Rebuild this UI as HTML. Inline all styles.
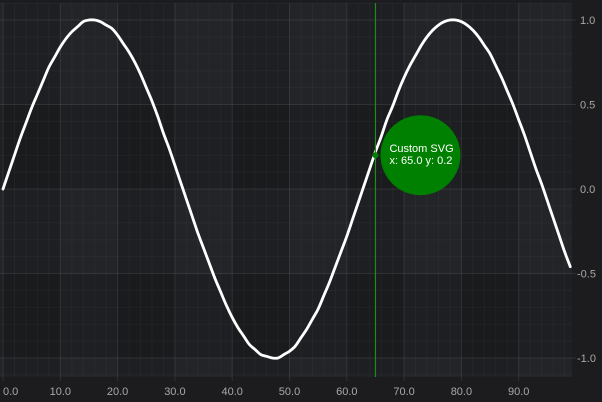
<!DOCTYPE html>
<html><head><meta charset="utf-8"><style>
html,body{margin:0;padding:0;background:#1c1c1e;}
svg{display:block;font-family:"Liberation Sans",sans-serif;}
</style></head><body>
<svg id="chart" width="602" height="402" viewBox="0 0 602 402" xmlns="http://www.w3.org/2000/svg">
<rect x="0" y="0" width="602" height="402" fill="#1c1c1e"/>
<g id="bands"></g>
<g id="grid"></g>
<g id="series"></g>
<g id="axes"></g>
<g id="tip"></g>
</svg>
<script>
const xValues = [];
for (let i = 0; i < 100; i++) xValues.push(i);
const yValues = [0.00,0.10,0.20,0.30,0.39,0.48,0.56,0.64,0.72,0.78,0.84,0.89,0.93,0.96,0.99,1.00,1.00,0.99,0.97,0.95,0.91,0.86,0.81,0.75,0.68,0.60,0.52,0.43,0.33,0.24,0.14,0.04,-0.06,-0.16,-0.26,-0.35,-0.44,-0.53,-0.61,-0.69,-0.76,-0.82,-0.87,-0.92,-0.95,-0.98,-0.99,-1.00,-1.00,-0.98,-0.96,-0.93,-0.88,-0.83,-0.77,-0.71,-0.63,-0.55,-0.46,-0.37,-0.28,-0.18,-0.08,0.02,0.12,0.22,0.31,0.41,0.49,0.58,0.66,0.73,0.79,0.85,0.90,0.94,0.97,0.99,1.00,1.00,0.99,0.97,0.94,0.90,0.85,0.80,0.73,0.66,0.58,0.50,0.41,0.32,0.22,0.12,0.03,-0.07,-0.17,-0.27,-0.37,-0.46];
const xTicks = [0,10,20,30,40,50,60,70,80,90];
const xTickLabels = ["0.0","10.0","20.0","30.0","40.0","50.0","60.0","70.0","80.0","90.0"];
const yTicks = [1.0,0.5,0.0,-0.5,-1.0];
const yTickLabels = ["1.0","0.5","0.0","-0.5","-1.0"];
const cursorX = 65.0;
const cursorY = 0.2;

const NS = "http://www.w3.org/2000/svg";
const L = 0, R = 572, T = 3, B = 377;
const X0 = 3, XS = 5.73;
const Y0 = 189, YS = 169;
function sx(v){ return X0 + v * XS; }
function sy(v){ return Y0 - v * YS; }
function vx(p){ return (p - X0) / XS; }
function mk(tag, attrs, parent){
  const e = document.createElementNS(NS, tag);
  for (const k in attrs) e.setAttribute(k, attrs[k]);
  parent.appendChild(e);
  return e;
}
const bands = document.getElementById('bands');
const grid = document.getElementById('grid');
const series = document.getElementById('series');
const axes = document.getElementById('axes');
const tip = document.getElementById('tip');

const base = mk('rect', {x:L, y:T, width:R-L, height:B-T, fill:'#232427'}, bands);



const xmax = vx(R);
for (let c = 0; c * 10 < xmax; c += 2) {
  const x1 = Math.max(L, sx(c*10)), x2 = Math.min(R, sx(c*10+10));
  const r = mk('rect', {x:x1, y:T, width:x2-x1, height:B-T, fill:'rgba(0,0,0,0.12)'}, bands);
  
  
}
[[0,0.5],[-1,-0.5]].forEach(function(b){
  const r = mk('rect', {x:L, y:sy(b[1]), width:R-L, height:sy(b[0])-sy(b[1]), fill:'rgba(0,0,0,0.12)'}, bands);
  
  
});
for (let v = 0; v <= xmax; v += 2) {
  if (v % 10 === 0) continue;
  const l = mk('line', {x1:sx(v), x2:sx(v), y1:T, y2:B, stroke:'rgba(255,255,255,0.03)', 'stroke-width':1}, grid);
  
  
}
for (let k = -11; k <= 11; k++) {
  if (k % 5 === 0) continue;
  const l = mk('line', {x1:L, x2:R, y1:sy(k/10), y2:sy(k/10), stroke:'rgba(255,255,255,0.03)', 'stroke-width':1}, grid);
  
  
}
xTicks.forEach(function(v, i){
  const l = mk('line', {x1:sx(v), x2:sx(v), y1:T, y2:B+4, stroke:'rgba(255,255,255,0.09)', 'stroke-width':1}, grid);
  
  
  const t = mk('text', {x: i === 0 ? sx(v) : sx(v), y:395, fill:'#a8a8a8', 'font-size':11, 'text-anchor': i === 0 ? 'start' : 'middle'}, axes);
  t.textContent = xTickLabels[i];
  
  
});
yTicks.forEach(function(v, i){
  const l = mk('line', {x1:L, x2:R+4, y1:sy(v), y2:sy(v), stroke:'rgba(255,255,255,0.09)', 'stroke-width':1}, grid);
  
  
  const t = mk('text', {x:v < 0 ? 577 : 580, y:sy(v)+4, fill:'#a8a8a8', 'font-size':11}, axes);
  t.textContent = yTickLabels[i];
  
  
});
// smooth series line (Catmull-Rom)
const pts = xValues.map(function(x, i){ return [sx(x), sy(yValues[i])]; });
let d = 'M' + pts[0][0].toFixed(2) + ',' + pts[0][1].toFixed(2);
for (let i = 0; i < pts.length - 1; i++) {
  const p0 = pts[Math.max(0, i-1)], p1 = pts[i], p2 = pts[i+1], p3 = pts[Math.min(pts.length-1, i+2)];
  const c1x = p1[0] + (p2[0]-p0[0])/6, c1y = p1[1] + (p2[1]-p0[1])/6;
  const c2x = p2[0] - (p3[0]-p1[0])/6, c2y = p2[1] - (p3[1]-p1[1])/6;
  d += 'C' + c1x.toFixed(2) + ',' + c1y.toFixed(2) + ' ' + c2x.toFixed(2) + ',' + c2y.toFixed(2) + ' ' + p2[0].toFixed(2) + ',' + p2[1].toFixed(2);
}
const path = mk('path', {d:d, fill:'none', stroke:'#ffffff', 'stroke-width':2.8, 'stroke-linejoin':'round', 'stroke-linecap':'round'}, series);



const cx = sx(cursorX), cy = sy(cursorY);
const vl = mk('line', {x1:cx, x2:cx, y1:T, y2:B, stroke:'#1f8a1f', 'stroke-width':1.2}, tip);


const el = mk('ellipse', {cx:cx+45, cy:cy, rx:40, ry:40, fill:'#008000'}, tip);


const dot = mk('circle', {cx:cx, cy:cy, r:3, fill:'#008000'}, tip);


const t1 = mk('text', {x:cx+14, y:cy-3, fill:'#ffffff', 'font-size':11}, tip);
t1.textContent = 'Custom SVG';


const t2 = mk('text', {x:cx+14, y:cy+9, fill:'#ffffff', 'font-size':11}, tip);
t2.textContent = 'x: ' + cursorX.toFixed(1) + ' y: ' + cursorY.toFixed(1);


</script>
</body></html>
